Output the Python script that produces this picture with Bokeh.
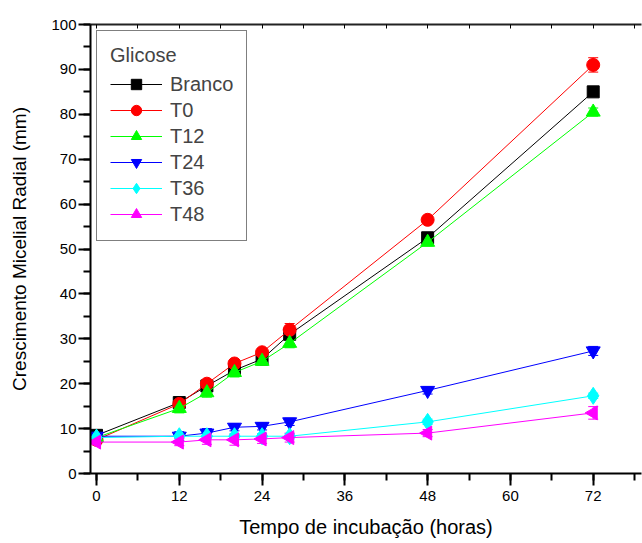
import math
from bokeh.plotting import figure
from bokeh.models import (ColumnDataSource, LinearAxis, SingleIntervalTicker, Range1d,
                          Legend, LegendItem, Whisker, TeeHead)
from bokeh.embed import file_html
from bokeh.resources import INLINE

# ---- data ----
tempo = [0, 12, 16, 20, 24, 28, 48, 72]
branco = [8.5, 15.8, 19.5, 23.0, 25.5, 31.0, 52.5, 85.0]
t0 = [7.5, 15.5, 20.0, 24.5, 27.0, 32.0, 56.5, 91.0]
t12 = [8.0, 14.5, 18.0, 22.5, 25.0, 29.0, 51.5, 80.5]
t24 = [8.3, 8.3, 9.0, 10.3, 10.5, 11.5, 18.5, 27.3]
t36 = [8.0, 8.3, 8.3, 8.3, 8.3, 8.3, 11.5, 17.3]
t48 = [7.0, 7.0, 7.5, 7.5, 7.7, 8.0, 9.0, 13.5]

err_branco = [0.8, 0.8, 0.8, 0.8, 0.8, 1.0, 0.8, 0.8]
err_t0 = [0.8, 0.8, 0.8, 0.8, 0.8, 1.4, 0.8, 1.6]
err_t12 = [0.8, 1.0, 1.0, 1.0, 0.8, 1.0, 0.8, 0.9]
err_t24 = [0.8, 1.0, 1.0, 0.8, 0.8, 0.8, 0.8, 1.0]
err_t36 = [0.8, 0.6, 0.6, 0.6, 0.6, 0.6, 0.6, 0.6]
err_t48 = [0.6, 0.8, 1.0, 1.2, 1.0, 1.0, 0.8, 1.4]

series = ["Branco", "T0", "T12", "T24", "T36", "T48"]
values = [branco, t0, t12, t24, t36, t48]
errors = [err_branco, err_t0, err_t12, err_t24, err_t36, err_t48]
colors = ["#000000", "#FF0000", "#00FF00", "#0000FF", "#00FFFF", "#FF00FF"]
markers = ["square", "circle", "triangle", "inverted_triangle", "diamond", "triangle"]
angles = [0, 0, 0, 0, 0, math.pi / 2]
sizes = [12, 13, 14, 14, 17, 14]

x_ticks_interval = 12
y_ticks_interval = 10

FONT = "Liberation Sans"

p = figure(width=642, height=543, output_backend="svg", toolbar_location=None,
           x_range=Range1d(-0.87, 79.0), y_range=Range1d(0, 100),
           min_border_left=90, min_border_right=1, min_border_top=24, min_border_bottom=70)
p.grid.visible = False
p.outline_line_color = None
p.background_fill_color = "white"
p.border_fill_color = "white"

xt = SingleIntervalTicker(interval=x_ticks_interval, num_minor_ticks=2)
yt = SingleIntervalTicker(interval=y_ticks_interval, num_minor_ticks=2)

for ax in p.xaxis:
    ax.ticker = xt
for ax in p.yaxis:
    ax.ticker = yt

for ax in list(p.xaxis) + list(p.yaxis):
    ax.axis_line_width = 2
    ax.axis_line_color = "black"
    ax.major_tick_line_width = 2
    ax.minor_tick_line_width = 2
    ax.major_tick_out = 12
    ax.major_tick_in = 0
    ax.minor_tick_out = 7
    ax.minor_tick_in = 0
    ax.major_label_text_font = FONT
    ax.major_label_text_font_size = "15px"
    ax.major_label_text_color = "black"
    ax.axis_label_text_font = FONT
    ax.axis_label_text_font_style = "normal"
    ax.axis_label_text_color = "black"

p.xaxis.axis_label = "Tempo de incubação (horas)"
p.yaxis.axis_label = "Crescimento Micelial Radial (mm)"
p.xaxis.axis_label_text_font_size = "20px"
p.yaxis.axis_label_text_font_size = "19px"
p.xaxis.major_label_standoff = 5
p.xaxis.axis_label_standoff = 12
p.yaxis.major_label_standoff = 2
p.yaxis.axis_label_standoff = 18

top = LinearAxis(ticker=SingleIntervalTicker(interval=6, num_minor_ticks=0),
                 axis_line_width=2, axis_line_color="#222222",
                 major_tick_in=4, major_tick_out=0, major_tick_line_width=1,
                 minor_tick_line_color=None,
                 major_label_text_font_size="1px", major_label_text_color=None,
                 major_label_standoff=0)
p.add_layout(top, "above")

items = []
for name, vals, errs, col, mk, ang, sz in zip(series, values, errors, colors, markers, angles, sizes):
    src = ColumnDataSource(dict(x=tempo, y=vals,
                                up=[v + e for v, e in zip(vals, errs)],
                                lo=[v - e for v, e in zip(vals, errs)]))
    lr = p.line("x", "y", source=src, line_color=col, line_width=1)
    w = Whisker(base="x", upper="up", lower="lo", source=src, line_color=col, line_width=1,
                upper_head=TeeHead(size=10, line_color=col, line_width=1),
                lower_head=TeeHead(size=10, line_color=col, line_width=1))
    p.add_layout(w)
    sr = p.scatter("x", "y", source=src, marker=mk, size=sz, angle=ang,
                   fill_color=col, line_color=col)
    items.append(LegendItem(label=name, renderers=[lr, sr]))

legend = Legend(items=items, location="top_left", margin=6,
                title="Glicose", title_text_font=FONT, title_text_font_size="20px",
                title_text_font_style="normal", title_standoff=4,
                label_text_font=FONT, label_text_font_size="20px",
                glyph_width=52, glyph_height=26, label_height=26, spacing=0,
                label_standoff=8, padding=13,
                border_line_color="black", border_line_width=1,
                background_fill_alpha=1.0)
p.add_layout(legend)

open("out.html", "w").write(file_html(p, INLINE))
